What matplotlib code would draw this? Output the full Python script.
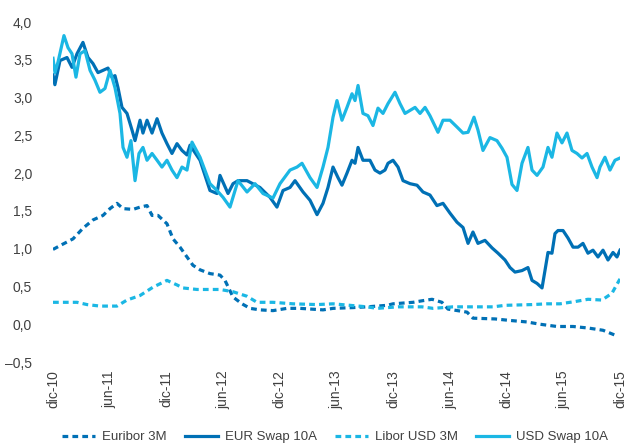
import matplotlib
matplotlib.use("Agg")
import matplotlib.pyplot as plt

# x values: months since Dec-2010
eur_swap_x = [0, 0.2, 0.74, 1.48, 2.01, 2.54, 3.17, 3.70, 4.23, 4.76, 5.29, 5.82, 6.24, 6.56, 6.88, 7.30, 7.83, 8.36, 8.68, 9.21,
              9.52, 9.95, 10.48, 11.01, 11.53, 12.06, 12.59, 13.12, 13.65, 14.18, 14.50, 15.56, 16.61, 17.35, 17.67, 18.52, 19.05,
              19.58, 20.53, 21.90, 22.96, 23.70, 24.34, 25.08, 25.61, 26.46, 27.20, 27.94, 28.57, 29.10, 29.63, 30.16, 30.58,
              31.11, 31.64, 31.96, 32.28, 32.80, 33.54, 34.07, 34.60, 35.13, 35.45, 35.98, 36.51, 37.04, 37.78, 38.52, 39.15,
              39.89, 40.63, 41.27, 42.01, 42.75, 43.39, 43.92, 44.44, 44.97, 45.71, 46.46, 47.09, 47.83, 48.36, 48.89, 49.63,
              50.26, 50.69, 51.22, 51.75, 52.06, 52.38, 52.80, 53.12, 53.44, 53.97, 54.50, 55.03, 55.56, 56.08, 56.61, 57.14,
              57.67, 58.20, 58.73, 59.26, 59.68, 60.0]
eur_swap = [3.30, 3.17, 3.49, 3.53, 3.40, 3.58, 3.73, 3.53, 3.45, 3.33, 3.36, 3.39, 3.27, 3.29, 3.13, 2.87, 2.79, 2.57, 2.43, 2.70,
            2.53, 2.70, 2.53, 2.72, 2.53, 2.39, 2.26, 2.39, 2.30, 2.24, 2.37, 2.17, 1.77, 1.73, 1.97, 1.73, 1.86,
            1.90, 1.90, 1.81, 1.68, 1.55, 1.77, 1.81, 1.90, 1.75, 1.64, 1.45, 1.60, 1.81, 2.08, 1.94, 1.84,
            2.00, 2.17, 2.13, 2.34, 2.17, 2.17, 2.04, 2.00, 2.04, 2.13, 2.17, 2.08, 1.90, 1.86, 1.84, 1.75,
            1.71, 1.57, 1.60, 1.47, 1.35, 1.28, 1.07, 1.22, 1.07, 1.11, 1.01, 0.94, 0.85, 0.75, 0.69, 0.71,
            0.75, 0.58, 0.54, 0.48, 0.71, 0.95, 0.94, 1.20, 1.24, 1.24, 1.14, 1.02, 1.02, 1.07, 0.94, 0.98,
            0.89, 0.98, 0.85, 0.95, 0.89, 0.98]

usd_swap_x = [0, 0.21, 0.53, 1.16, 1.59, 2.01, 2.43, 2.86, 3.39, 3.92, 4.44, 4.97, 5.50, 6.03, 6.56, 7.09, 7.41, 7.83, 8.25, 8.68,
              9.10, 9.52, 9.95, 10.48, 11.01, 11.53, 12.06, 12.59, 13.12, 13.65, 14.18, 14.71, 15.56, 16.61, 17.35, 17.99,
              18.73, 19.58, 20.53, 21.38, 22.22, 23.28, 24.02, 25.08, 25.82, 26.35, 27.20, 27.94, 28.57, 29.10, 29.63,
              30.05, 30.58, 31.11, 31.64, 31.96, 32.28, 32.80, 33.33, 33.86, 34.39, 34.92, 35.45, 36.19, 36.72, 37.25,
              37.78, 38.31, 38.84, 39.37, 39.89, 40.74, 41.27, 42.01, 42.75, 43.39, 43.92, 44.55, 44.97, 45.50, 46.24,
              46.98, 47.51, 48.04, 48.57, 49.10, 49.63, 50.26, 50.69, 51.22, 51.85, 52.38, 52.80, 53.33, 53.86, 54.39,
              54.92, 55.45, 55.98, 56.51, 57.04, 57.57, 57.88, 58.41, 58.94, 59.47, 60.0]
usd_swap = [3.52, 3.33, 3.47, 3.82, 3.66, 3.58, 3.27, 3.58, 3.62, 3.36, 3.23, 3.07, 3.12, 3.36, 3.13, 2.79, 2.34, 2.21, 2.43, 1.90,
            2.26, 2.34, 2.17, 2.26, 2.17, 2.08, 2.17, 2.04, 1.94, 2.08, 2.04, 2.41, 2.21, 1.86, 1.77, 1.68,
            1.55, 1.90, 1.75, 1.86, 1.73, 1.67, 1.86, 2.04, 2.08, 2.13, 1.94, 1.81, 2.08, 2.34, 2.74,
            2.96, 2.70, 2.87, 3.05, 2.96, 3.16, 2.79, 2.76, 2.63, 2.86, 2.79, 2.92, 3.07, 2.92, 2.79,
            2.83, 2.87, 2.79, 2.87, 2.76, 2.54, 2.70, 2.70, 2.61, 2.53, 2.54, 2.74, 2.57, 2.30, 2.47,
            2.43, 2.33, 2.21, 1.85, 1.77, 2.13, 2.34, 2.04, 1.97, 2.08, 2.34, 2.21, 2.53, 2.40, 2.53,
            2.30, 2.26, 2.20, 2.26, 2.08, 1.94, 2.08, 2.21, 2.04, 2.17, 2.20]

euribor_x = [0, 0.74, 2.12, 3.17, 4.23, 5.29, 6.03, 6.77, 7.41, 8.47, 9.21, 9.95, 10.48, 11.11, 12.06, 12.70, 13.44, 14.18,
             14.81, 15.56, 16.61, 17.67, 18.20, 19.05, 20.0, 20.85, 21.90, 23.28, 24.76, 26.14, 28.57, 29.63, 31.75, 33.23,
             35.34, 35.98, 37.04, 38.10, 39.05, 40.11, 41.16, 41.80, 43.81, 44.44, 46.77, 48.36, 50.16, 51.53, 53.33,
             55.03, 56.61, 58.20, 59.58]
euribor = [0.99, 1.04, 1.13, 1.27, 1.38, 1.44, 1.53, 1.60, 1.53, 1.52, 1.55, 1.57, 1.44, 1.44, 1.33, 1.13, 1.02, 0.89,
           0.78, 0.72, 0.67, 0.65, 0.58, 0.36, 0.27, 0.21, 0.19, 0.18, 0.21, 0.21, 0.19, 0.21, 0.22, 0.23,
           0.25, 0.27, 0.28, 0.29, 0.31, 0.33, 0.29, 0.20, 0.16, 0.08, 0.07, 0.05, 0.03, 0.00, -0.03,
           -0.03, -0.05, -0.08, -0.15]

libor_x = [0, 2.54, 3.60, 4.97, 6.77, 7.83, 9.21, 10.58, 12.06, 13.12, 13.76, 15.24, 17.67, 19.05, 20.53, 21.59, 23.28,
           25.40, 27.94, 29.63, 31.43, 33.23, 34.29, 36.51, 39.05, 40.21, 42.33, 44.44, 46.56, 47.83, 50.69, 52.28,
           53.65, 55.24, 56.61, 58.10, 59.15, 60.0]
libor = [0.29, 0.29, 0.26, 0.24, 0.24, 0.32, 0.38, 0.49, 0.58, 0.52, 0.48, 0.46, 0.46, 0.43, 0.37, 0.29, 0.29,
         0.27, 0.26, 0.27, 0.25, 0.23, 0.21, 0.23, 0.23, 0.21, 0.23, 0.23, 0.23, 0.25, 0.26, 0.27,
         0.27, 0.30, 0.33, 0.32, 0.41, 0.60]

tick_pos = [0, 6, 12, 18, 24, 30, 36, 42, 48, 54, 60]
tick_labels = ["dic-10", "jun-11", "dic-11", "jun-12", "dic-12", "jun-13", "dic-13", "jun-14", "dic-14", "jun-15", "dic-15"]
y_ticks = [-0.5, 0.0, 0.5, 1.0, 1.5, 2.0, 2.5, 3.0, 3.5, 4.0]

DARK = "#0070b5"
LIGHT = "#1bb7e4"
TXT = "#404040"

plt.rcParams['font.family'] = ['Liberation Sans', 'DejaVu Sans']

fig = plt.figure(figsize=(6.33, 4.46), dpi=100)
ax = fig.add_axes([53/633, 1-362/446, (620-53)/633, (362-22)/446])

lw = 2.3
ax.plot(euribor_x, euribor, color=DARK, lw=lw, ls=(0, (1.8, 1.3)), label="Euribor 3M")
ax.plot(eur_swap_x, eur_swap, color=DARK, lw=lw, label="EUR Swap 10A")
ax.plot(libor_x, libor, color=LIGHT, lw=lw, ls=(0, (1.8, 1.3)), label="Libor USD 3M")
ax.plot(usd_swap_x, usd_swap, color=LIGHT, lw=lw, label="USD Swap 10A")

ax.set_xlim(0, 60)
ax.set_ylim(-0.5, 4.0)
ax.set_xticks(tick_pos)
ax.set_xticklabels(tick_labels, rotation=90, fontsize=10, color=TXT)
ax.set_yticks(y_ticks)
ax.set_yticklabels([("%.1f" % v).replace(".", ",").replace("-", "\u2013") for v in y_ticks], fontsize=10, color=TXT)
ax.tick_params(axis='both', length=0)
ax.tick_params(axis='y', pad=15)
ax.tick_params(axis='x', pad=6)
for s in ax.spines.values():
    s.set_visible(False)

leg = fig.legend(loc='center', bbox_to_anchor=(335/633, 1-437/446), ncol=4, frameon=False,
                 fontsize=9.5, handlelength=2.5, handletextpad=0.5, columnspacing=1.4)
for t in leg.get_texts():
    t.set_color(TXT)

fig.savefig("out.png", dpi=100)
